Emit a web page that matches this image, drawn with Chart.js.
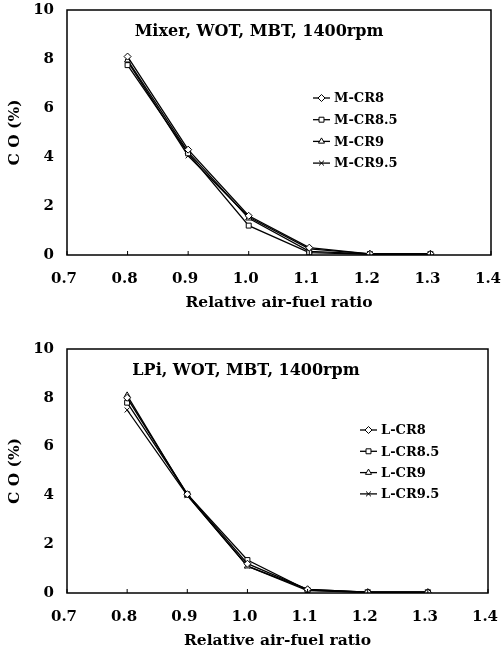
<!DOCTYPE html>
<html>
<head>
<meta charset="utf-8">
<script src="https://cdn.jsdelivr.net/npm/chart.js@4/dist/chart.umd.min.js"></script>
<style>
  body { margin: 0; background: #fff; }
  canvas { display: block; }
</style>
</head>
<body>
<canvas id="chartMixer" width="502" height="322"></canvas>
<canvas id="chartLpi" width="502" height="327"></canvas>
<script>
'use strict'

// relative air-fuel ratio (x values)
var airFuel = [0.8, 0.9, 1.0, 1.1, 1.2, 1.3];

// CO (%) - mixer
var mixerCR8 = [8.1, 4.3, 1.6, 0.3, 0.05, 0.05];
var mixerCR85 = [7.75, 4.15, 1.2, 0.1, 0.03, 0.03];
var mixerCR9 = [7.95, 4.2, 1.5, 0.15, 0.05, 0.04];
var mixerCR95 = [7.9, 4.05, 1.55, 0.25, 0.05, 0.04];

// CO (%) - LPi
var lpiCR8 = [8.0, 4.05, 1.2, 0.15, 0.03, 0.03];
var lpiCR85 = [7.8, 4.05, 1.35, 0.12, 0.03, 0.03];
var lpiCR9 = [8.1, 4.0, 1.1, 0.15, 0.03, 0.03];
var lpiCR95 = [7.5, 4.0, 1.1, 0.1, 0.03, 0.03];

var mixerLabels = ['M-CR8', 'M-CR8.5', 'M-CR9', 'M-CR9.5'];
var lpiLabels = ['L-CR8', 'L-CR8.5', 'L-CR9', 'L-CR9.5'];
var markers = ['rectRot', 'rect', 'triangle', 'crossRot'];

var FONT = '"DejaVu Serif", "Liberation Serif", serif';

function toPoints(ys) {
  var pts = [];
  for (var i = 0; i < airFuel.length; i++) {
    pts.push({x: airFuel[i], y: ys[i]});
  }
  return pts;
}

function makeDatasets(labels, series) {
  var sets = [];
  for (var i = 0; i < series.length; i++) {
    sets.push({
      label: labels[i],
      data: toPoints(series[i]),
      borderColor: '#000',
      backgroundColor: '#fff',
      borderWidth: 1.3,
      pointStyle: markers[i],
      pointRadius: 3.5,
      pointBorderWidth: 1,
      pointBorderColor: '#000',
      pointBackgroundColor: '#fff',
      tension: 0
    });
  }
  return sets;
}

// frame, inward ticks, inner title and legend
var decorPlugin = {
  id: 'decor',
  afterDraw: function(chart) {
    var ctx = chart.ctx;
    var a = chart.chartArea;
    var o = chart.options.plugins.decor;
    ctx.save();
    ctx.strokeStyle = '#000';
    ctx.lineWidth = 1.5;
    ctx.strokeRect(a.left, a.top, a.right - a.left, a.bottom - a.top);

    ctx.lineWidth = 1;
    var xs = chart.scales.x;
    xs.ticks.forEach(function(t) {
      var px = xs.getPixelForValue(t.value);
      ctx.beginPath();
      ctx.moveTo(px, a.bottom);
      ctx.lineTo(px, a.bottom - 4);
      ctx.stroke();
    });

    ctx.fillStyle = '#000';
    ctx.font = 'bold 16px ' + FONT;
    ctx.textAlign = 'center';
    ctx.textBaseline = 'middle';
    ctx.fillText(o.title, a.left + o.titleX, a.top + 22);

    ctx.font = 'bold 13px ' + FONT;
    ctx.textAlign = 'left';
    var sets = chart.data.datasets;
    for (var i = 0; i < sets.length; i++) {
      var lx = a.left + o.legendX;
      var ly = a.top + o.legendY + i * o.legendGap;
      ctx.lineWidth = 1.3;
      ctx.beginPath();
      ctx.moveTo(lx, ly);
      ctx.lineTo(lx + 17, ly);
      ctx.stroke();
      ctx.fillStyle = '#fff';
      ctx.lineWidth = 1;
      Chart.helpers.drawPoint(ctx, {pointStyle: markers[i], radius: 3.5, rotation: 0, borderWidth: 1}, lx + 8.5, ly);
      ctx.fillStyle = '#000';
      ctx.fillText(sets[i].label, lx + 21, ly + 1);
    }
    ctx.restore();
  }
};

function makeChart(id, labels, series, padTop, padRight, padBottom, decor) {
  var ctx = document.getElementById(id).getContext('2d');
  return new Chart(ctx, {
    type: 'line',
    data: {datasets: makeDatasets(labels, series)},
    plugins: [decorPlugin],
    options: {
      responsive: false,
      animation: false,
      devicePixelRatio: 1,
      layout: {padding: {left: 0, right: padRight, top: padTop, bottom: padBottom}},
      plugins: {
        legend: {display: false},
        tooltip: {enabled: false},
        decor: decor
      },
      scales: {
        x: {
          type: 'linear',
          min: 0.7,
          max: 1.4,
          grid: {display: false, drawTicks: false},
          border: {display: false},
          afterFit: function(s) {
            s.height = 56;
            s.paddingLeft = 0;
            s.paddingRight = 0;
          },
          ticks: {
            stepSize: 0.1,
            padding: 15,
            labelOffset: -3,
            color: '#000',
            font: {family: FONT, size: 15, weight: 'bold'},
            callback: function(v) { return v.toFixed(1); }
          },
          title: {
            display: true,
            text: 'Relative air-fuel ratio',
            color: '#000',
            padding: 0,
            font: {family: FONT, size: 15.5, weight: 'bold', lineHeight: 1}
          }
        },
        y: {
          min: 0,
          max: 10,
          grid: {display: false, drawTicks: false},
          border: {display: false},
          afterFit: function(s) {
            s.width = 67;
            s.paddingTop = 0;
            s.paddingBottom = 0;
          },
          ticks: {
            stepSize: 2,
            padding: 13,
            color: '#000',
            font: {family: FONT, size: 15, weight: 'bold'}
          },
          title: {
            display: true,
            text: 'C O (%)',
            color: '#000',
            padding: 7,
            font: {family: FONT, size: 15.5, weight: 'bold', lineHeight: 1}
          }
        }
      }
    }
  });
}

makeChart('chartMixer', mixerLabels, [mixerCR8, mixerCR85, mixerCR9, mixerCR95], 10, 11, 11,
  {title: 'Mixer, WOT, MBT, 1400rpm', titleX: 192, legendX: 246, legendY: 88, legendGap: 21.7});
makeChart('chartLpi', lpiLabels, [lpiCR8, lpiCR85, lpiCR9, lpiCR95], 27, 14, 0,
  {title: 'LPi, WOT, MBT, 1400rpm', titleX: 179, legendX: 293, legendY: 81, legendGap: 21.3});
</script>
</body>
</html>
